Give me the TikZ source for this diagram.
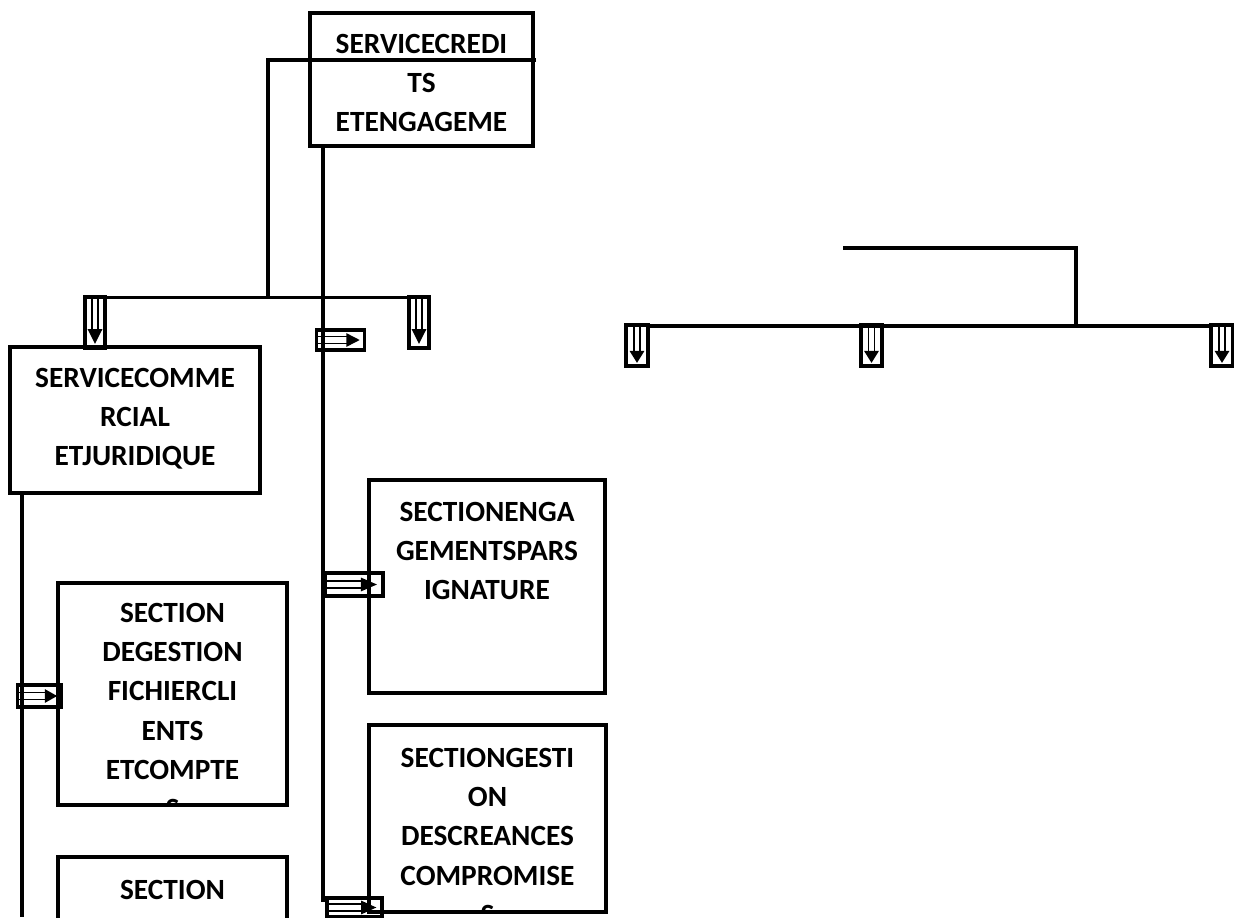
\documentclass[tikz,border=0pt]{standalone}
\usepackage{fontspec}
\setmainfont{Carlito}
\usetikzlibrary{fit,calc}
\begin{document}
\begin{tikzpicture}[x=0.75pt,y=-0.75pt,
  box/.style={draw, line width=2.6pt, inner sep=0pt},
  lbl/.style={align=center, font=\bfseries\fontsize{22}{29.4}\selectfont, inner sep=0pt, anchor=north},
  wire/.style={line width=2.7pt},
  darr/.style={draw, line width=2.8pt, inner sep=0pt, minimum width=15pt, minimum height=38pt,
    path picture={
      \draw[line width=1pt] ($(path picture bounding box.north)+(-2.2pt,0)$) -- ($(path picture bounding box.north)!0.66!(path picture bounding box.south)+(-2.2pt,0)$);
      \draw[line width=1pt] ($(path picture bounding box.north)+(2.2pt,0)$) -- ($(path picture bounding box.north)!0.66!(path picture bounding box.south)+(2.2pt,0)$);
      \fill ($(path picture bounding box.north)!0.63!(path picture bounding box.south)+(-5.6pt,0)$) -- ($(path picture bounding box.north)!0.63!(path picture bounding box.south)+(5.6pt,0)$) -- ($(path picture bounding box.north)!0.92!(path picture bounding box.south)$) -- cycle;
    }},
  darrs/.style={darr, minimum width=16pt, minimum height=31pt},
  rarr/.style={draw, line width=2.8pt, inner sep=0pt, minimum width=36pt, minimum height=15pt,
    path picture={
      \draw[line width=1pt] ($(path picture bounding box.west)+(0,-2.6pt)$) -- ($(path picture bounding box.west)!0.66!(path picture bounding box.east)+(0,-2.6pt)$);
      \draw[line width=1pt] ($(path picture bounding box.west)+(0,2.6pt)$) -- ($(path picture bounding box.west)!0.66!(path picture bounding box.east)+(0,2.6pt)$);
      \fill ($(path picture bounding box.west)!0.62!(path picture bounding box.east)+(0,-5.2pt)$) -- ($(path picture bounding box.west)!0.62!(path picture bounding box.east)+(0,5.2pt)$) -- ($(path picture bounding box.west)!0.9!(path picture bounding box.east)$) -- cycle;
    }}
]
\clip (0,0) rectangle (1234,917);

% boxes
\node[box, fit={(310,13) (533,146)}] (b1) {};
\node[box, fit={(10,347) (260,493)}] (b2) {};
\node[box, fit={(58,583) (287,805)}] (b3) {};
\node[box, fit={(58,857) (287,960)}] (b4) {};
\node[box, fit={(369,480) (605,693)}] (b5) {};
\node[box, fit={(369,725) (606,912)}] (b6) {};

% labels (clipped to their boxes)
\begin{scope}\clip (b1.south west) rectangle (b1.north east);
\node[lbl] (t1) at (421.5,34) {SERVICECREDI\\TS\\ETENGAGEME};\end{scope}
\begin{scope}\clip (b2.south west) rectangle (b2.north east);
\node[lbl] (t2) at (135,368) {SERVICECOMME\\RCIAL\\ETJURIDIQUE};\end{scope}
\begin{scope}\clip (b3.south west) rectangle (b3.north east);
\node[lbl] (t3) at (172.5,603) {SECTION\\DEGESTION\\FICHIERCLI\\ENTS\\ETCOMPTE\\S};\end{scope}
\begin{scope}\clip (b4.south west) rectangle (b4.north east);
\node[lbl] (t4) at (172.5,880) {SECTION};\end{scope}
\begin{scope}\clip (b5.south west) rectangle (b5.north east);
\node[lbl] (t5) at (487,502) {SECTIONENGA\\GEMENTSPARS\\IGNATURE};\end{scope}
\begin{scope}\clip (b6.south west) rectangle (b6.north east);
\node[lbl] (t6) at (487.5,748) {SECTIONGESTI\\ON\\DESCREANCES\\COMPROMISE\\S};\end{scope}

% arrow boxes
\node[darr] (a1) at (95,322.5) {};
\node[darr] (a2) at (419,322.5) {};
\node[rarr] (h1) at (340.5,340) {};
\node[rarr, minimum width=43pt, minimum height=17pt] (h2) at (354,584.5) {};
\node[rarr, minimum width=41pt, minimum height=14pt] (h3) at (354.5,907.5) {};
\node[rarr, minimum width=33pt, minimum height=16pt] (h4) at (39.5,696) {};
\node[darrs] (a3) at (637,345.5) {};
\node[darrs] (a4) at (871.5,345.5) {};
\node[darrs] (a5) at (1222,345.5) {};

% connectors
\coordinate (p1) at (268,60);
\coordinate (p2) at (536,60);
\coordinate (p3) at (268,299);
\draw[wire] (p2) -- (p1) -- (p3);
\draw[wire] ($(a1.north east)+(0,2)$) -- ($(a2.north west)+(0,2)$);
\coordinate (v1) at (323,146);
\coordinate (v2) at (323,902);
\draw[wire] (v1) -- (v2);
\coordinate (w1) at (22,493);
\coordinate (w2) at (22,917);
\draw[wire] (w1) -- (w2);
\coordinate (r1) at (843,248);
\coordinate (r2) at (1076,248);
\coordinate (r3) at (1076,328);
\draw[wire] (r1) -- (r2) -- (r3);
\draw[wire] ($(a3.north east)+(0,3)$) -- ($(a5.north west)+(0,3)$);
\end{tikzpicture}
\end{document}
